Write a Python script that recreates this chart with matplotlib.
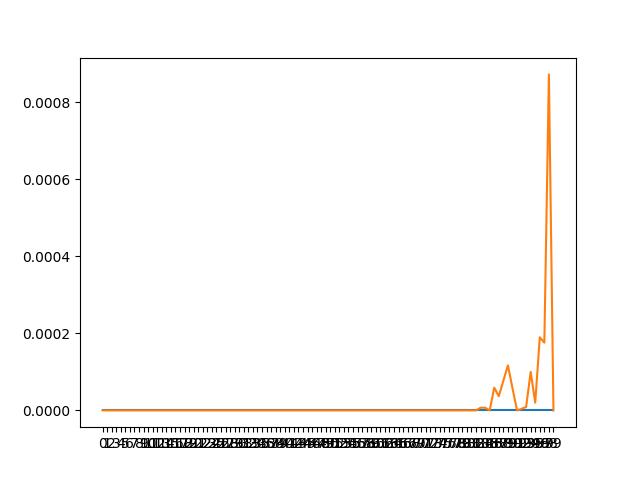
import numpy as np
import matplotlib
matplotlib.use("Agg")
import matplotlib.pyplot as plt

# Kategorien (als Strings -> kategoriale x-Achse)
labels = [str(i) for i in range(100)]

# Serie 1: ueberall null
serie_a = [0.0] * 100

# Serie 2: null bis ca. 82, dann einige Ausreisser
serie_b = [0.0] * 100
spitzen = {
    83: 7e-6, 84: 7e-6, 85: 0.0, 86: 5.9e-5, 87: 3.7e-5, 88: 7.7e-5,
    89: 1.17e-4, 90: 5.8e-5, 91: 0.0, 92: 4e-6, 93: 9e-6, 94: 1.0e-4,
    95: 2.0e-5, 96: 1.9e-4, 97: 1.76e-4, 98: 8.73e-4, 99: 0.0,
}
for k, v in spitzen.items():
    serie_b[k] = v

fig, ax = plt.subplots(figsize=(6.4, 4.8), dpi=100)
ax.plot(labels, serie_a)
ax.plot(labels, serie_b)

fig.savefig("out.png")
